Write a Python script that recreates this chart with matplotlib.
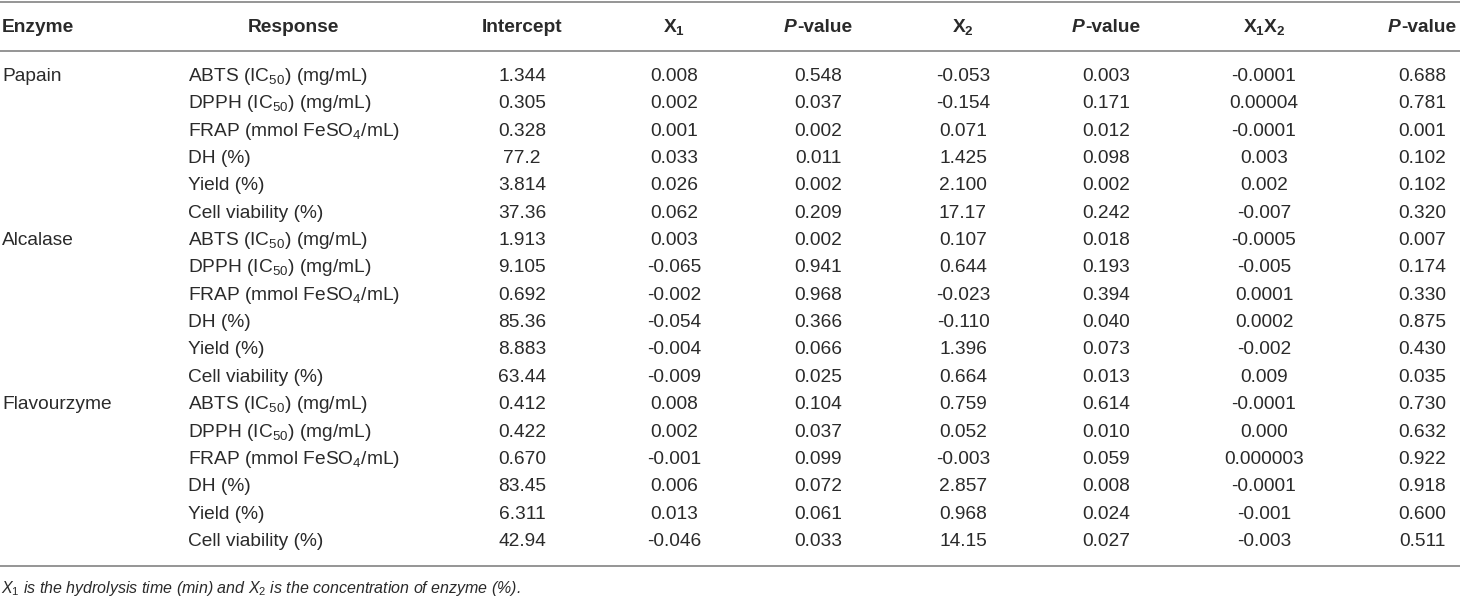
import matplotlib
matplotlib.use("Agg")
import matplotlib.pyplot as plt
from matplotlib.offsetbox import TextArea, HPacker, AnnotationBbox

plt.rcParams.update({
    "font.family": "Liberation Sans",
    "mathtext.fontset": "custom",
    "mathtext.rm": "Liberation Sans",
    "mathtext.it": "Liberation Sans:italic",
    "mathtext.bf": "Liberation Sans:bold",
})

# ---------------------------------------------------------------------------
# table content
# ---------------------------------------------------------------------------
enzymes = ["Papain", "Alcalase", "Flavourzyme"]
responses = ["ABTS (IC$_{50}$) (mg/mL)", "DPPH (IC$_{50}$) (mg/mL)",
             "FRAP (mmol FeSO$_4$/mL)", "DH (%)", "Yield (%)",
             "Cell viability (%)"]

intercept = ["1.344", "0.305", "0.328", "77.2", "3.814", "37.36",
             "1.913", "9.105", "0.692", "85.36", "8.883", "63.44",
             "0.412", "0.422", "0.670", "83.45", "6.311", "42.94"]
x1 = ["0.008", "0.002", "0.001", "0.033", "0.026", "0.062",
      "0.003", "-0.065", "-0.002", "-0.054", "-0.004", "-0.009",
      "0.008", "0.002", "-0.001", "0.006", "0.013", "-0.046"]
p_x1 = ["0.548", "0.037", "0.002", "0.011", "0.002", "0.209",
        "0.002", "0.941", "0.968", "0.366", "0.066", "0.025",
        "0.104", "0.037", "0.099", "0.072", "0.061", "0.033"]
x2 = ["-0.053", "-0.154", "0.071", "1.425", "2.100", "17.17",
      "0.107", "0.644", "-0.023", "-0.110", "1.396", "0.664",
      "0.759", "0.052", "-0.003", "2.857", "0.968", "14.15"]
p_x2 = ["0.003", "0.171", "0.012", "0.098", "0.002", "0.242",
        "0.018", "0.193", "0.394", "0.040", "0.073", "0.013",
        "0.614", "0.010", "0.059", "0.008", "0.024", "0.027"]
x1x2 = ["-0.0001", "0.00004", "-0.0001", "0.003", "0.002", "-0.007",
        "-0.0005", "-0.005", "0.0001", "0.0002", "-0.002", "0.009",
        "-0.0001", "0.000", "0.000003", "-0.0001", "-0.001", "-0.003"]
p_x1x2 = ["0.688", "0.781", "0.001", "0.102", "0.102", "0.320",
          "0.007", "0.174", "0.330", "0.875", "0.430", "0.035",
          "0.730", "0.632", "0.922", "0.918", "0.600", "0.511"]

num_headers = ["Intercept", r"$\mathbf{X_1}$", "P", r"$\mathbf{X_2}$", "P",
               r"$\mathbf{X_1X_2}$", "P"]
num_cols = [intercept, x1, p_x1, x2, p_x2, x1x2, p_x1x2]

# ---------------------------------------------------------------------------
# layout (pixel coords, y downwards)
# ---------------------------------------------------------------------------
W, H = 1460, 597
col_x = [522, 674, 818, 963, 1106, 1264, 1422]
x_enz, x_resp, x_resp_head = 2, 188, 293
y_head, y_row0, dy = 27, 76.5, 27.35
ink = "#2a2a2a"
rule = "#8c8c8c"
fs = 13.8

fig = plt.figure(figsize=(W / 100, H / 100), dpi=100)
ax = fig.add_axes([0, 0, 1, 1])
ax.set_xlim(0, W); ax.set_ylim(H, 0); ax.axis("off")

for y in (2, 51, 566):
    ax.plot([0, W], [y, y], color=rule, lw=1.3, solid_capstyle="butt")

# header
ax.text(x_enz, y_head, "Enzyme", fontsize=fs, weight="bold", color=ink,
        ha="left", va="center")
ax.text(x_resp_head, y_head, "Response", fontsize=fs, weight="bold",
        color=ink, ha="center", va="center")
for x, h in zip(col_x, num_headers):
    if h == "P":
        box = HPacker(children=[
            TextArea("P", textprops=dict(fontsize=fs, weight="bold",
                                         style="italic", color=ink)),
            TextArea("-value", textprops=dict(fontsize=fs, weight="bold",
                                              color=ink))],
            pad=0, sep=0, align="baseline")
        ax.add_artist(AnnotationBbox(box, (x, y_head), frameon=False,
                                     box_alignment=(0.5, 0.5), pad=0))
    else:
        ax.text(x, y_head, h, fontsize=fs, weight="bold", color=ink,
                ha="center", va="center")

# body
for i in range(len(intercept)):
    y = y_row0 + i * dy
    if i % len(responses) == 0:
        ax.text(x_enz, y, enzymes[i // len(responses)], fontsize=fs,
                color=ink, ha="left", va="center")
    ax.text(x_resp, y, responses[i % len(responses)], fontsize=fs,
            color=ink, ha="left", va="center")
    for x, col in zip(col_x, num_cols):
        ax.text(x, y, col[i], fontsize=fs, color=ink, ha="center",
                va="center")

# footnote
ax.text(1, 588, "$X_1$ is the hydrolysis time (min) and $X_2$ is the "
        "concentration of enzyme (%).", fontsize=11.5, style="italic",
        color=ink, ha="left", va="center")

fig.savefig("out.png", dpi=100)
